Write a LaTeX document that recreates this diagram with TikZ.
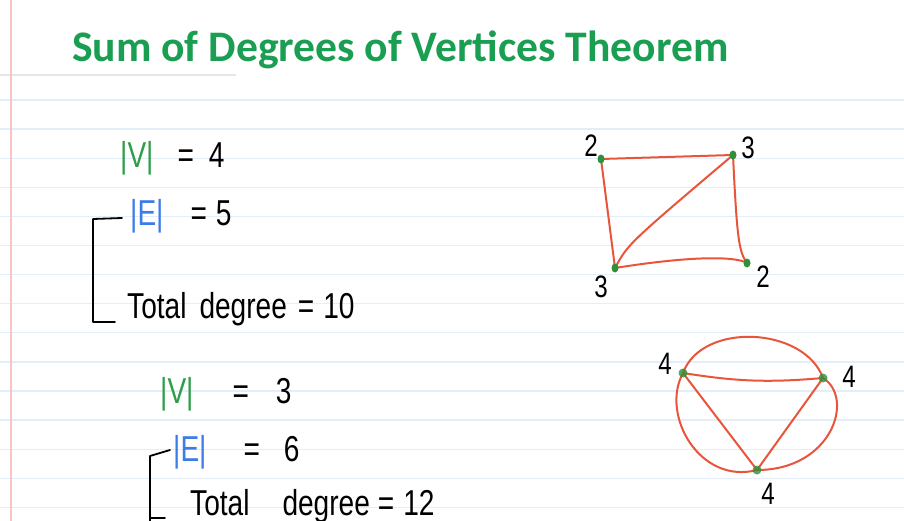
\documentclass[tikz,border=0pt]{standalone}
\usepackage{fontspec}
\newfontfamily\titlefont{Carlito}
\newfontfamily\hand[FakeStretch=0.78]{Liberation Sans}
\definecolor{titlegreen}{HTML}{1A9E52}
\definecolor{vgreen}{HTML}{2E9E4A}
\definecolor{eblue}{HTML}{3B7BEA}
\definecolor{edgered}{HTML}{E8553A}
\definecolor{dotgreen}{HTML}{2F8F3A}
\definecolor{rulecol}{HTML}{E4EEF9}
\definecolor{margincol}{HTML}{F7C4C4}
\definecolor{graycol}{HTML}{E6E6E6}
\usetikzlibrary{shapes.geometric}
\tikzset{
  rule/.style={draw=rulecol, line width=1.3pt},
  edge/.style={draw=edgered, line width=2pt, line cap=round, line join=round},
  vpos/.style={ellipse, minimum width=8pt, minimum height=10pt, inner sep=0pt},
  vdot/.style={fill=dotgreen},
  handtext/.style={anchor=base west, inner sep=0pt, font=\hand\fontsize{36}{40}\selectfont},
  numlabel/.style={inner sep=0pt, font=\hand\fontsize{31}{34}\selectfont},
  bracket/.style={draw=black, line width=1.8pt, line cap=round, line join=round}
}
\begin{document}
\begin{tikzpicture}[x=1pt,y=-1pt]
\useasboundingbox (0,0) rectangle (904,521);
\fill[white] (0,0) rectangle (904,521);
% ruled paper
\foreach \i in {0,...,14} \draw[rule] (0,{100+29.1*\i}) -- (904,{100+29.1*\i});
\draw[draw=graycol, line width=1.3pt] (0,75) -- (236,75);
\draw[draw=margincol, line width=1.5pt] (11,0) -- (11,521);
% title
\node[anchor=base west, inner sep=0pt, text=titlegreen, font=\titlefont\bfseries\fontsize{43.6}{48}\selectfont] (title) at (72,62) {Sum of Degrees of Vertices Theorem};
% first block
\node[handtext] (v1) at (120,168) {\textcolor{vgreen}{|V|}\hspace{24pt}=\hspace{15pt}4};
\node[handtext] (e1) at (130,226) {\textcolor{eblue}{|E|}\hspace{27pt}=\hspace{9pt}5};
\node[handtext] (t1) at (127,318) {Total\hspace{13pt}degree\hspace{11pt}=\hspace{9pt}10};
\draw[bracket] (122,218) -- (93,219) -- (93,322) -- (115,322);
% second block
\node[handtext] (v2) at (160,403) {\textcolor{vgreen}{|V|}\hspace{39pt}=\hspace{27pt}3};
\node[handtext] (e2) at (173,461) {\textcolor{eblue}{|E|}\hspace{37pt}=\hspace{24pt}6};
\node[handtext] (t2) at (190,515) {Total\hspace{33pt}degree\hspace{8pt}=\hspace{9pt}12};
\draw[bracket] (170,450) -- (150,456) -- (150,521);
\draw[bracket] (150,518) -- (165,518);
% graph 1
\node[vpos] (A) at (601,159) {};
\node[vpos] (B) at (733,155) {};
\node[vpos] (C) at (615,268) {};
\node[vpos] (D) at (747,263) {};
\draw[edge] (A.center) -- (B.center);
\draw[edge] (A.center) -- (C.center);
\draw[edge] (C.center) .. controls (628,244) .. (B.center);
\draw[edge] (B.center) .. controls (737,240) and (739,252) .. (D.center);
\draw[edge] (C.center) .. controls (690,256) and (735,256) .. (D.center);
\foreach \v in {A,B,C,D} \fill[vdot] (\v.center) ellipse [x radius=3.5, y radius=4.5];
\node[numlabel] (lA) at (591,146) {2};
\node[numlabel] (lB) at (748,148) {3};
\node[numlabel] (lC) at (601,287) {3};
\node[numlabel] (lD) at (763,277) {2};
% graph 2
\node[vpos] (P) at (683,373) {};
\node[vpos] (Q) at (823,378) {};
\node[vpos] (R) at (757,470) {};
\draw[edge] (P.center) to[bend right=7] (Q.center);
\draw[edge] (P.center) -- (R.center);
\draw[edge] (Q.center) -- (R.center);
\draw[edge] (P.center) to[out=70,in=110] (Q.center);
\draw[edge] (Q.center) .. controls (855,398) and (832,470) .. (R.center);
\draw[edge] (R.center) .. controls (700,485) and (660,415) .. (P.center);
\foreach \v in {P,Q,R} \fill[vdot, opacity=0.8] (\v.center) ellipse [x radius=4.5, y radius=4.5];
\node[numlabel] (lP) at (665,364) {4};
\node[numlabel] (lQ) at (849,377) {4};
\node[numlabel] (lR) at (768,494) {4};
\end{tikzpicture}
\end{document}
